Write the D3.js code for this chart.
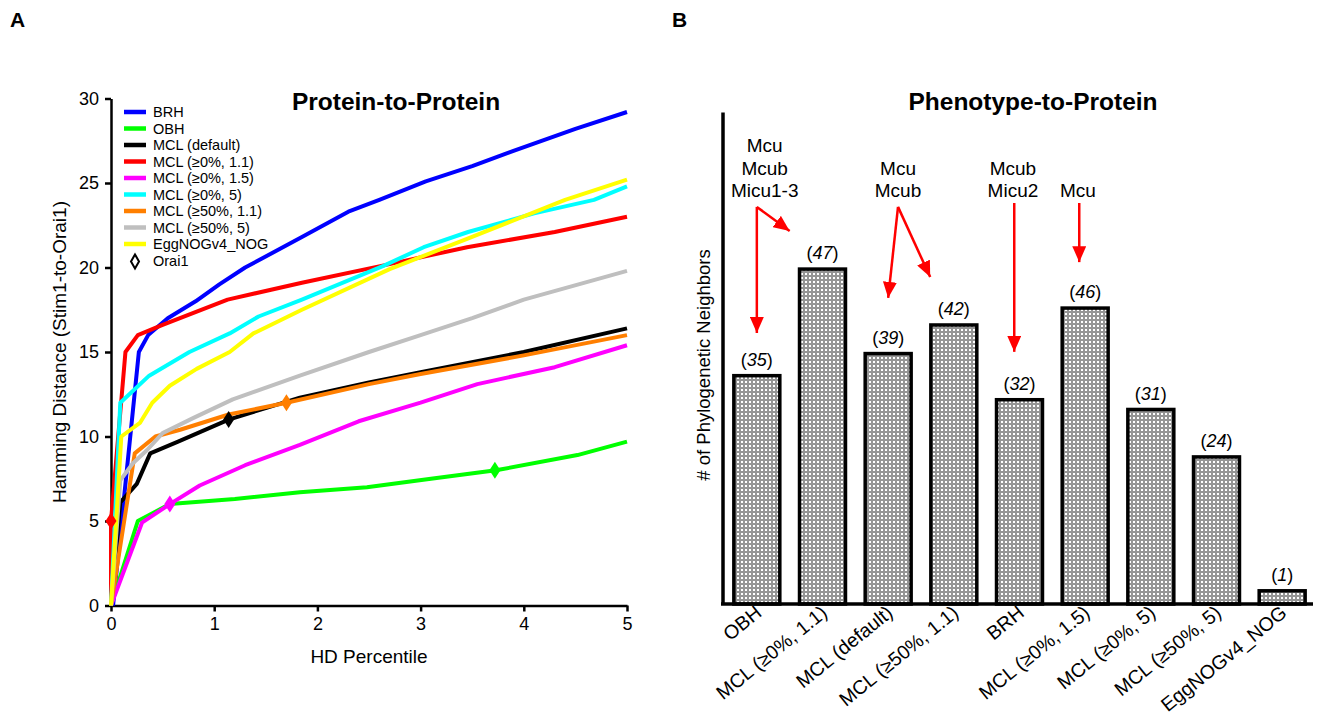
<!DOCTYPE html>
<html><head><meta charset="utf-8">
<script src="https://cdn.jsdelivr.net/npm/d3@7"></script>
<style>
body{margin:0;background:#fff}
text{font-family:Arial,"Liberation Sans",sans-serif;fill:#000}
</style>
</head><body>
<svg id="c" width="1318" height="720"></svg>
<script>
// ---------- Panel A data ----------
const seriesNames = ["BRH","OBH","MCL (default)","MCL (≥0%, 1.1)","MCL (≥0%, 1.5)","MCL (≥0%, 5)","MCL (≥50%, 1.1)","MCL (≥50%, 5)","EggNOGv4_NOG"];
const seriesColors = ["#0000ff","#00ff00","#000000","#ff0000","#ff00ff","#00ffff","#ff7f00","#bfbfbf","#ffff00"];
const brh = [[0.02,0],[0.27,15],[0.36,16],[0.55,17],[0.82,18],[1.05,19],[1.3,20],[1.85,21.8],[2.3,23.3],[2.6,24],[3.05,25.1],[3.5,26],[3.9,26.9],[4.5,28.2],[5,29.2]];
const obh = [[0,0],[0.26,5],[0.57,6],[1.2,6.3],[1.83,6.7],[2.48,7],[3.1,7.5],[3.73,8],[4.52,8.9],[5,9.7]];
const mclDefault = [[0,0],[0.09,6.1],[0.25,7.2],[0.38,9],[0.65,9.7],[1.14,11],[1.83,12.3],[2.5,13.2],[3,13.8],[4,15],[5,16.4]];
const mcl0_11 = [[0,0],[0,5],[0.14,15],[0.26,16],[0.5,16.6],[1.13,18.1],[1.85,19.1],[2.7,20.2],[3.45,21.2],[4.3,22.1],[5,23]];
const mcl0_15 = [[0,0],[0.3,4.9],[0.57,6],[0.86,7.1],[1.3,8.3],[1.83,9.5],[2.4,10.9],[3,12],[3.55,13.1],[4.3,14.1],[5,15.4]];
const mcl0_5 = [[0,0],[0.09,12],[0.37,13.6],[0.76,15],[1.15,16.1],[1.43,17.1],[1.85,18.1],[2.64,20.1],[3.03,21.2],[3.46,22.1],[4.1,23.2],[4.68,24],[5,24.8]];
const mcl50_11 = [[0,0],[0.23,9],[0.43,10],[0.67,10.4],[1.14,11.3],[1.7,12],[2.5,13.1],[3,13.7],[4,14.8],[5,16]];
const mcl50_5 = [[0,0],[0.09,7.4],[0.21,8.4],[0.35,9.2],[0.5,10.2],[0.8,11.1],[1.18,12.2],[1.83,13.6],[2.5,15],[3,16],[3.5,17],[4,18.1],[5,19.8]];
const eggnog = [[0,0],[0.1,10],[0.28,10.8],[0.4,12],[0.57,13],[0.83,14],[1.15,15],[1.38,16.1],[1.85,17.5],[2.7,19.9],[3.45,21.7],[4.4,24],[5,25.2]];
const seriesData = [brh,obh,mclDefault,mcl0_11,mcl0_15,mcl0_5,mcl50_11,mcl50_5,eggnog];
const orai1Series = ["MCL (≥0%, 1.1)","MCL (≥0%, 1.5)","MCL (default)","MCL (≥50%, 1.1)","OBH"];
const orai1X = [0,0.57,1.14,1.7,3.72];
const orai1Y = [5,6,11,12,8];
const xTicksA = [0,1,2,3,4,5];
const yTicksA = [0,5,10,15,20,25,30];

// ---------- Panel B data ----------
const barCategories = ["OBH","MCL (≥0%, 1.1)","MCL (default)","MCL (≥50%, 1.1)","BRH","MCL (≥0%, 1.5)","MCL (≥0%, 5)","MCL (≥50%, 5)","EggNOGv4_NOG"];
const neighborCounts = [35,47,39,42,32,46,31,24,1];
const barHeights = [35.4,51.8,38.8,43.2,31.7,45.8,30.2,22.9,2.3];
const annoLabels = [["Mcu","Mcub","Micu1-3"],["Mcu","Mcub"],["Mcub","Micu2"],["Mcu"]];
const annoAt = [0.12,2.15,3.9,4.89];
const annoBase = [62.6,62.6,62.6,62.6];
const annoArrows = [
  [[0,61.1,0,41.7],[0,61.1,0.5,57.4]],
  [[2.15,61.1,2.0,47.1],[2.15,61.1,2.64,50.3]],
  [[3.92,61.7,3.92,38.8]],
  [[4.91,61.7,4.91,52.6]]
];

const svg = d3.select("#c");
const defs = svg.append("defs");
const pat = defs.append("pattern").attr("id","dots").attr("patternUnits","userSpaceOnUse").attr("width",4).attr("height",4);
pat.append("rect").attr("width",4).attr("height",4).attr("fill","#959595");
pat.append("rect").attr("x",1).attr("y",1).attr("width",2).attr("height",2).attr("fill","#ffffff");
defs.append("marker").attr("id","ah").attr("markerUnits","userSpaceOnUse")
  .attr("markerWidth",16).attr("markerHeight",14).attr("refX",16).attr("refY",7).attr("orient","auto")
  .append("path").attr("d","M0,0L16,7L0,14Z").attr("fill","#ff0000");

// Panel letters
svg.append("text").attr("x",10).attr("y",27).attr("font-size",21).attr("font-weight","bold").text("A");
svg.append("text").attr("x",672).attr("y",27).attr("font-size",21).attr("font-weight","bold").text("B");

// ---------- Panel A ----------
const xA = d3.scaleLinear().domain([0,5]).range([111,627]);
const yA = d3.scaleLinear().domain([0,30]).range([605.5,98.5]);
const gA = svg.append("g");
const axX = gA.append("g").attr("transform","translate(0,605.5)")
  .call(d3.axisBottom(xA).tickValues(xTicksA).tickSize(6).tickSizeOuter(0).tickPadding(6).tickFormat(d3.format("d")));
const axY = gA.append("g").attr("transform","translate(111,0)")
  .call(d3.axisLeft(yA).tickValues(yTicksA).tickSize(6).tickSizeOuter(0).tickPadding(6).tickFormat(d3.format("d")));
[axX,axY].forEach(a=>{
  a.selectAll("path,line").attr("stroke","#000").attr("stroke-width",2.5);
  a.selectAll("text").attr("font-size",18).attr("font-family","Arial, Liberation Sans, sans-serif").attr("fill","#000");
});
gA.append("text").attr("x",369).attr("y",663).attr("text-anchor","middle").attr("font-size",19).text("HD Percentile");
gA.append("text").attr("transform","translate(66,352) rotate(-90)").attr("text-anchor","middle").attr("font-size",19).text("Hamming Distance (Stim1-to-Orai1)");
gA.append("text").attr("x",396).attr("y",110).attr("text-anchor","middle").attr("font-size",24.5).attr("font-weight","bold").text("Protein-to-Protein");

const line = d3.line().x(d=>xA(d[0])).y(d=>yA(d[1]));
seriesData.forEach((s,i)=>{
  gA.append("path").datum(s).attr("d",line).attr("fill","none")
    .attr("stroke",seriesColors[i]).attr("stroke-width",4).attr("stroke-linejoin","round");
});
const diamond = "M0,-8.5L5.5,0L0,8.5L-5.5,0Z";
orai1Series.forEach((name,i)=>{
  gA.append("path").attr("d",diamond)
    .attr("transform",`translate(${xA(orai1X[i])},${yA(orai1Y[i])})`)
    .attr("fill",seriesColors[seriesNames.indexOf(name)]);
});
// Legend
const leg = gA.append("g");
seriesNames.forEach((n,i)=>{
  const cy = 112 + i*16.5;
  leg.append("line").attr("x1",124).attr("x2",146).attr("y1",cy).attr("y2",cy)
    .attr("stroke",seriesColors[i]).attr("stroke-width",4.5);
  leg.append("text").attr("x",153).attr("y",cy+5).attr("font-size",14.5).text(n);
});
const oy = 112 + 9*16.6;
leg.append("path").attr("d","M0,-7L4,0L0,7L-4,0Z").attr("transform",`translate(135,${oy})`)
  .attr("fill","#fff").attr("stroke","#000").attr("stroke-width",2);
leg.append("text").attr("x",153).attr("y",oy+5).attr("font-size",14.5).text("Orai1");

// ---------- Panel B ----------
const xB = d3.scaleBand().domain(barCategories).range([724,1315]).paddingInner(0.3).paddingOuter(0.15);
const yB = d3.scaleLinear().domain([0,75.7]).range([604,112]);
const gB = svg.append("g");
const bw = xB.bandwidth();
gB.selectAll("rect.bar").data(barCategories).join("rect").attr("class","bar")
  .attr("x",d=>xB(d)).attr("width",bw)
  .attr("y",(d,i)=>yB(barHeights[i])+1.75).attr("height",(d,i)=>yB(0)-yB(barHeights[i])-1.75)
  .attr("fill","url(#dots)").attr("stroke","#000").attr("stroke-width",3.5);
gB.selectAll("text.val").data(barCategories).join("text").attr("class","val")
  .attr("x",d=>xB(d)+bw/2).attr("y",(d,i)=>yB(barHeights[i])-8)
  .attr("text-anchor","middle").attr("font-size",18)
  .each(function(d,i){
    const t=d3.select(this);
    t.append("tspan").text("(");
    t.append("tspan").attr("font-style","italic").text(neighborCounts[i]);
    t.append("tspan").text(")");
  });
const axBx = gB.append("g").attr("transform","translate(0,604)")
  .call(d3.axisBottom(xB).tickSize(0).tickSizeOuter(0));
axBx.select(".domain").attr("d","M721,0H1313").attr("stroke","#000").attr("stroke-width",3.5);
axBx.selectAll(".tick text").attr("y",null).attr("dy",null)
  .attr("transform","translate(6,11) rotate(-39)").attr("text-anchor","end")
  .attr("font-size",19.5).attr("font-family","Arial, Liberation Sans, sans-serif").attr("fill","#000");
const axBy = gB.append("g").attr("transform","translate(722.5,0)")
  .call(d3.axisLeft(yB).tickValues([]).tickSizeOuter(0));
axBy.select(".domain").attr("stroke","#000").attr("stroke-width",3.5);
gB.append("text").attr("transform","translate(710,365) rotate(-90)").attr("text-anchor","middle").attr("font-size",18.5).text("# of Phylogenetic Neighbors");
gB.append("text").attr("x",1033).attr("y",110).attr("text-anchor","middle").attr("font-size",24.5).attr("font-weight","bold").text("Phenotype-to-Protein");

const x0 = xB(barCategories[0]) + bw/2, st = xB.step();
const xAt = f => x0 + f*st;
annoLabels.forEach((lines,k)=>{
  const n = lines.length;
  lines.forEach((l,j)=>{
    gB.append("text").attr("x",xAt(annoAt[k])).attr("y",yB(annoBase[k]) - (n-1-j)*22.5)
      .attr("text-anchor","middle").attr("font-size",19).text(l);
  });
  annoArrows[k].forEach(a=>{
    gB.append("line").attr("x1",xAt(a[0])).attr("y1",yB(a[1])).attr("x2",xAt(a[2])).attr("y2",yB(a[3]))
      .attr("stroke","#ff0000").attr("stroke-width",2.5).attr("marker-end","url(#ah)");
  });
});
</script>
</body></html>
